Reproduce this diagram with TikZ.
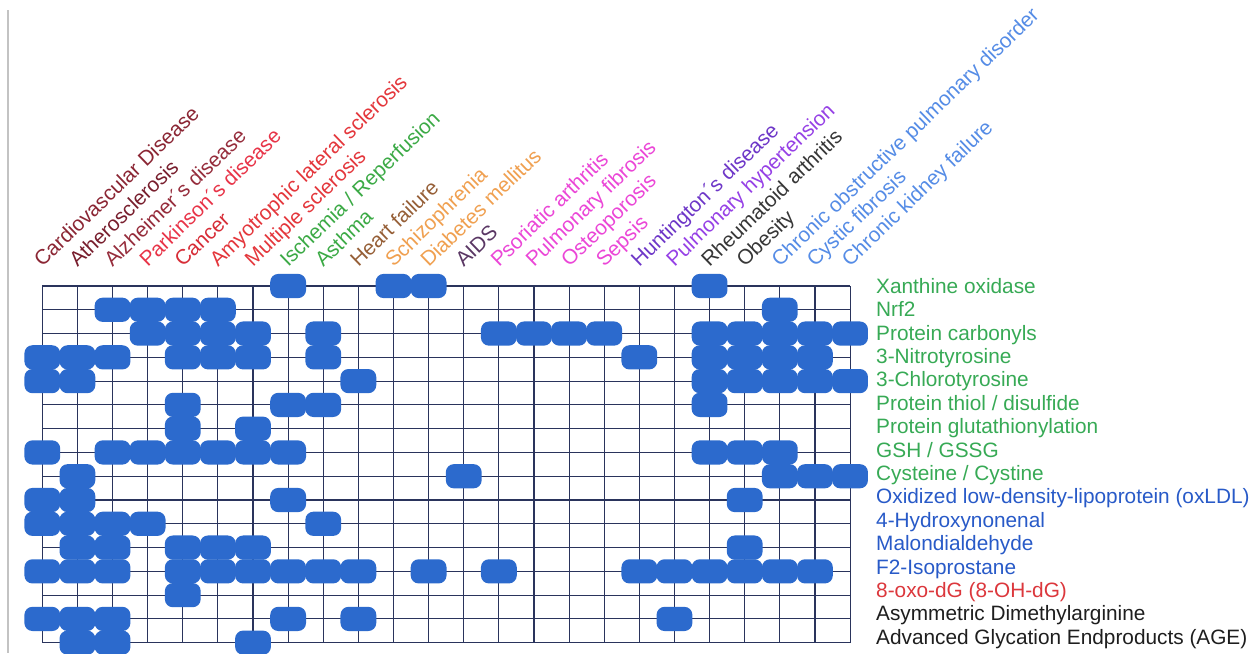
\documentclass[tikz,border=0pt]{standalone}
\usepackage{fontspec}
\setmainfont{Liberation Sans}
\definecolor{blobc}{RGB}{44,106,205}
\definecolor{gridc}{RGB}{42,52,92}
\definecolor{cvd}{RGB}{139,38,52}
\definecolor{ath}{RGB}{120,30,45}
\definecolor{alz}{RGB}{150,45,60}
\definecolor{redA}{RGB}{232,52,72}
\definecolor{redB}{RGB}{215,45,55}
\definecolor{redC}{RGB}{228,55,60}
\definecolor{grnA}{RGB}{60,170,70}
\definecolor{brn}{RGB}{150,95,55}
\definecolor{org}{RGB}{240,160,80}
\definecolor{aidsc}{RGB}{90,55,100}
\definecolor{mag}{RGB}{235,70,215}
\definecolor{purA}{RGB}{110,55,200}
\definecolor{purB}{RGB}{150,65,230}
\definecolor{dgray}{RGB}{55,55,55}
\definecolor{lblue}{RGB}{85,140,230}
\definecolor{mgreen}{RGB}{55,170,85}
\definecolor{mblue}{RGB}{40,90,200}
\definecolor{mred}{RGB}{220,55,60}
\definecolor{mblack}{RGB}{30,30,30}
\definecolor{edgegray}{RGB}{195,195,195}
\begin{document}
\begin{tikzpicture}[x=1pt,y=-1pt,
  blobst/.style={rectangle,fill=blobc,rounded corners=8pt,minimum width=35.8pt,minimum height=24.2pt,inner sep=0pt,draw=none},
  gridline/.style={draw=gridc,line width=1.1pt},
  dlab/.style={anchor=base west,rotate=44,inner sep=0pt,font=\fontsize{20.8}{24}\selectfont},
  mlab/.style={anchor=base west,inner sep=0pt,font=\fontsize{20.8}{24}\selectfont}]
\useasboundingbox (0,0) rectangle (1255,653);
\fill[white] (0,0) rectangle (1255,653);
\draw[edgegray,line width=2pt] (8,10) -- (8,653);
% grid
\foreach \i in {0,...,23}
  \draw[gridline] ({42.3+35.12*\i},286) -- ({42.3+35.12*\i},{286+23.78*15});
\foreach \j in {0,...,15}
  \draw[gridline] (42.3,{286+23.78*\j}) -- (850,{286+23.78*\j});
% blobs
\foreach \r/\cols in {
  0/{7,10,11,19},
  1/{2,3,4,5,21},
  2/{3,4,5,6,8,13,14,15,16,19,20,21,22,23},
  3/{0,1,2,4,5,6,8,17,19,20,21,22},
  4/{0,1,9,19,20,21,22,23},
  5/{4,7,8,19},
  6/{4,6},
  7/{0,2,3,4,5,6,7,19,20,21},
  8/{1,12,21,22,23},
  9/{0,1,7,20},
  10/{0,1,2,3,8},
  11/{1,2,4,5,6,20},
  12/{0,1,2,4,5,6,7,8,9,11,13,17,18,19,20,21,22},
  13/{4},
  14/{0,1,2,7,9,18},
  15/{1,2,6}}{
  \foreach \c in \cols {
    \node[blobst] (b-\r-\c) at ({42.3+35.12*\c},{286+23.78*\r}) {};
  }
}
% disease labels
\node[dlab,text=cvd]   (d0)  at ({42.3+35.12*0},268)  {Cardiovascular Disease};
\node[dlab,text=ath]   (d1)  at ({42.3+35.12*1},268)  {Atherosclerosis};
\node[dlab,text=alz]   (d2)  at ({42.3+35.12*2},268)  {Alzheimer´s disease};
\node[dlab,text=redA]  (d3)  at ({42.3+35.12*3},268)  {Parkinson´s disease};
\node[dlab,text=redB]  (d4)  at ({42.3+35.12*4},268)  {Cancer};
\node[dlab,text=redC]  (d5)  at ({42.3+35.12*5},268)  {Amyotrophic lateral sclerosis};
\node[dlab,text=redC]  (d6)  at ({42.3+35.12*6},268)  {Multiple sclerosis};
\node[dlab,text=grnA]  (d7)  at ({42.3+35.12*7},268)  {Ischemia / Reperfusion};
\node[dlab,text=grnA]  (d8)  at ({42.3+35.12*8},268)  {Asthma};
\node[dlab,text=brn]   (d9)  at ({42.3+35.12*9},268)  {Heart failure};
\node[dlab,text=org]   (d10) at ({42.3+35.12*10},268) {Schizophrenia};
\node[dlab,text=org]   (d11) at ({42.3+35.12*11},268) {Diabetes mellitus};
\node[dlab,text=aidsc] (d12) at ({42.3+35.12*12},268) {AIDS};
\node[dlab,text=mag]   (d13) at ({42.3+35.12*13},268) {Psoriatic arthritis};
\node[dlab,text=mag]   (d14) at ({42.3+35.12*14},268) {Pulmonary fibrosis};
\node[dlab,text=mag]   (d15) at ({42.3+35.12*15},268) {Osteoporosis};
\node[dlab,text=mag]   (d16) at ({42.3+35.12*16},268) {Sepsis};
\node[dlab,text=purA]  (d17) at ({42.3+35.12*17},268) {Huntington´s disease};
\node[dlab,text=purB]  (d18) at ({42.3+35.12*18},268) {Pulmonary hypertension};
\node[dlab,text=dgray] (d19) at ({42.3+35.12*19},268) {Rheumatoid arthritis};
\node[dlab,text=dgray] (d20) at ({42.3+35.12*20},268) {Obesity};
\node[dlab,text=lblue] (d21) at ({42.3+35.12*21},268) {Chronic obstructive pulmonary disorder};
\node[dlab,text=lblue] (d22) at ({42.3+35.12*22},268) {Cystic fibrosis};
\node[dlab,text=lblue] (d23) at ({42.3+35.12*23},268) {Chronic kidney failure};
% marker labels
\node[mlab,text=mgreen] (m0)  at (876,{293.3+23.4*0})  {Xanthine oxidase};
\node[mlab,text=mgreen] (m1)  at (876,{293.3+23.4*1})  {Nrf2};
\node[mlab,text=mgreen] (m2)  at (876,{293.3+23.4*2})  {Protein carbonyls};
\node[mlab,text=mgreen] (m3)  at (876,{293.3+23.4*3})  {3-Nitrotyrosine};
\node[mlab,text=mgreen] (m4)  at (876,{293.3+23.4*4})  {3-Chlorotyrosine};
\node[mlab,text=mgreen] (m5)  at (876,{293.3+23.4*5})  {Protein thiol / disulfide};
\node[mlab,text=mgreen] (m6)  at (876,{293.3+23.4*6})  {Protein glutathionylation};
\node[mlab,text=mgreen] (m7)  at (876,{293.3+23.4*7})  {GSH / GSSG};
\node[mlab,text=mgreen] (m8)  at (876,{293.3+23.4*8})  {Cysteine / Cystine};
\node[mlab,text=mblue]  (m9)  at (876,{293.3+23.4*9})  {Oxidized low-density-lipoprotein (oxLDL)};
\node[mlab,text=mblue]  (m10) at (876,{293.3+23.4*10}) {4-Hydroxynonenal};
\node[mlab,text=mblue]  (m11) at (876,{293.3+23.4*11}) {Malondialdehyde};
\node[mlab,text=mblue]  (m12) at (876,{293.3+23.4*12}) {F2-Isoprostane};
\node[mlab,text=mred]   (m13) at (876,{293.3+23.4*13}) {8-oxo-dG (8-OH-dG)};
\node[mlab,text=mblack] (m14) at (876,{293.3+23.4*14}) {Asymmetric Dimethylarginine};
\node[mlab,text=mblack] (m15) at (876,{293.3+23.4*15}) {Advanced Glycation Endproducts (AGE)};
\end{tikzpicture}
\end{document}
